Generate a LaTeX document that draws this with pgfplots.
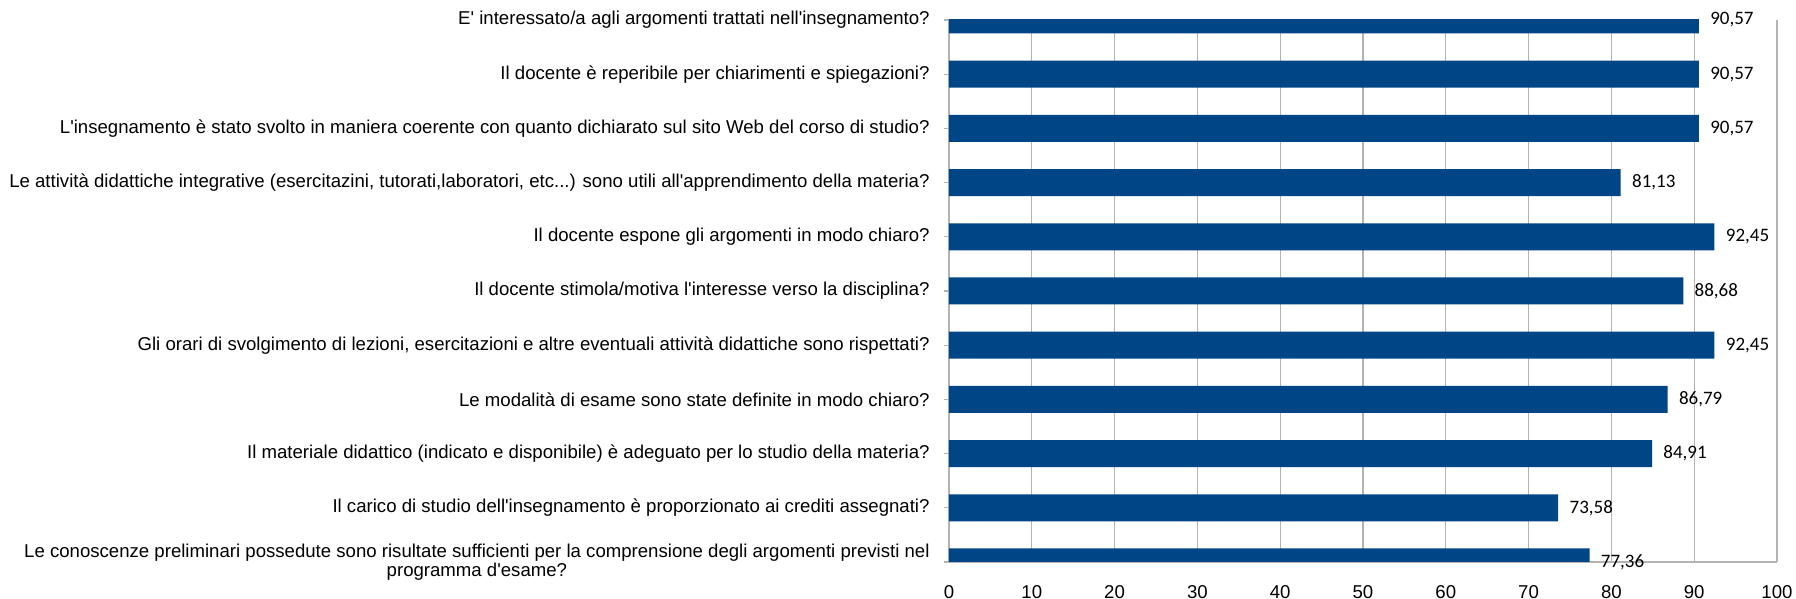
\documentclass[border=0pt]{standalone}
\usepackage{pgfplots}
\pgfplotsset{compat=1.18}
\usepackage{fontspec}
\setmainfont{Liberation Sans}[Ligatures=TeXOff]
\newfontfamily\valfont{Carlito}
\definecolor{barblue}{RGB}{0,69,134}
\definecolor{gridgray}{RGB}{179,179,179}
\begin{document}
\begin{tikzpicture}
\begin{axis}[
  scale only axis,
  width=414pt, height=271pt,
  xbar, bar width=13.5pt,
  xmin=0, xmax=100, ymin=0, ymax=10,
  enlarge y limits=false,
  xtick={0,10,20,30,40,50,60,70,80,90,100},
  ytick={0,1,2,3,4,5,6,7,8,9,10},
  yticklabels={
    {Le conoscenze preliminari possedute sono risultate sufficienti per la comprensione degli argomenti previsti nel\\programma d'esame?},
    {Il carico di studio dell'insegnamento è proporzionato ai crediti assegnati?},
    {Il materiale didattico (indicato e disponibile) è adeguato per lo studio della materia?},
    {Le modalità di esame sono state definite in modo chiaro?},
    {Gli orari di svolgimento di lezioni, esercitazioni e altre eventuali attività didattiche sono rispettati?},
    {Il docente stimola/motiva l'interesse verso la disciplina?},
    {Il docente espone gli argomenti in modo chiaro?},
    {Le attività didattiche integrative (esercitazini, tutorati,laboratori, etc{.}{.}{.}) sono utili all'apprendimento della materia?},
    {L'insegnamento è stato svolto in maniera coerente con quanto dichiarato sul sito Web del corso di studio?},
    {Il docente è reperibile per chiarimenti e spiegazioni?},
    {E' interessato/a agli argomenti trattati nell'insegnamento?}
  },
  yticklabel style={align=center, font=\fontsize{9.3}{9.8}\selectfont, inner sep=1pt, xshift=-6pt},
  xticklabel style={font=\fontsize{9.3}{10}\selectfont},
  /pgf/number format/assume math mode=true,
  axis x line*=bottom, axis y line*=left,
  axis line style={gridgray, line width=1pt},
  x axis line style={-}, y axis line style={-},
  xmajorgrids, major grid style={gridgray, line width=0.6pt},
  x tick style={draw=none},
  y tick style={gridgray, line width=0.6pt},
  tick align=outside, major tick length=2.5pt,
  xticklabel shift=5.5pt,
  nodes near coords,
  nodes near coords style={anchor=west, font=\valfont\fontsize{9.5}{10}\selectfont, inner xsep=0pt, xshift=5.5pt,
    /pgf/number format/.cd, fixed, fixed zerofill, precision=2, use comma},
  clip=true,
]
\addplot[fill=barblue, draw=none] coordinates {
  (77.36,0) (73.58,1) (84.91,2) (86.79,3) (92.45,4) (88.68,5)
  (92.45,6) (81.13,7) (90.57,8) (90.57,9) (90.57,10)
};
\draw[gridgray, line width=1pt] (axis cs:100,0) -- (axis cs:100,10);
\end{axis}
\pgfresetboundingbox
\path (-474.5pt,-18.5pt) rectangle (423.5pt,281pt);
\end{tikzpicture}
\end{document}
